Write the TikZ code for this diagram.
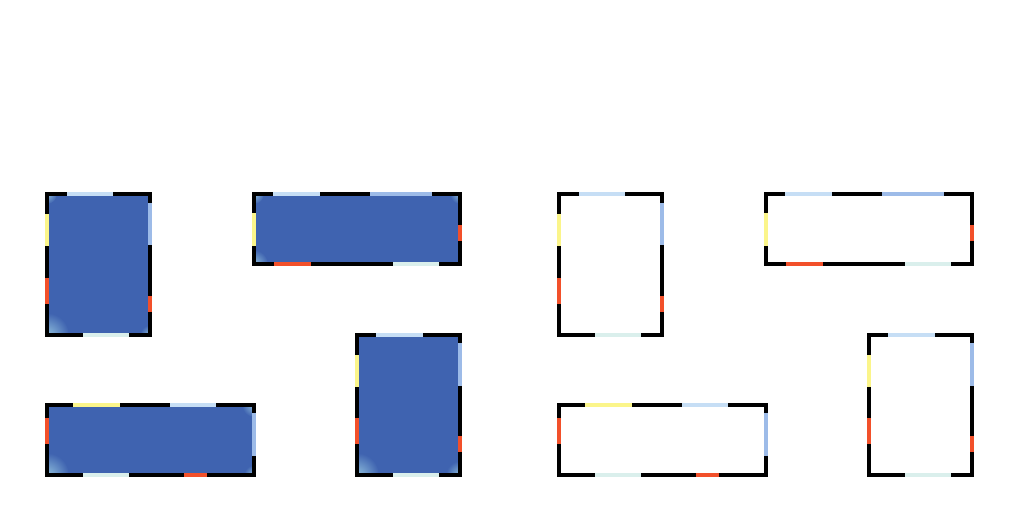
\documentclass[tikz,border=0pt]{standalone}
\definecolor{cyel}{HTML}{FBF58A}
\definecolor{cred}{HTML}{F2502A}
\definecolor{clb}{HTML}{C6DEF5}
\definecolor{cper}{HTML}{9DBBE8}
\definecolor{ccy}{HTML}{DAEFEC}
\definecolor{cfill}{HTML}{3F63B0}
\definecolor{clight}{HTML}{8FBEDC}
\tikzset{
  frame/.style={line width=2pt, line join=miter, draw=black},
  seg/.style={line width=2pt, line cap=butt},
  heat/.style={fill=cfill, draw=none},
  glow/.style={inner color=clight, outer color=cfill}
}
\newcommand\mypanels{%
  % panel 1 (portrait, top)
  \draw[frame] (47,194) rectangle (150,335);
  \draw[seg, clb]  (67,194) -- (113,194);
  \draw[seg, cper] (150,203) -- (150,245);
  \draw[seg, cyel] (47,214) -- (47,246);
  \draw[seg, cred] (47,278) -- (47,304);
  \draw[seg, cred] (150,296) -- (150,312);
  \draw[seg, ccy]  (83,335) -- (129,335);
  % panel 2 (landscape, top)
  \draw[frame] (254,194) rectangle (460,264);
  \draw[seg, clb]  (273,194) -- (320,194);
  \draw[seg, cper] (370,194) -- (432,194);
  \draw[seg, cyel] (254,213) -- (254,246);
  \draw[seg, cred] (460,225) -- (460,241);
  \draw[seg, cred] (274,264) -- (311,264);
  \draw[seg, ccy]  (393,264) -- (439,264);
  % panel 3 (landscape, bottom)
  \draw[frame] (47,405) rectangle (254,475);
  \draw[seg, cyel] (73,405) -- (120,405);
  \draw[seg, clb]  (170,405) -- (216,405);
  \draw[seg, cred] (47,418) -- (47,444);
  \draw[seg, cper] (254,413) -- (254,456);
  \draw[seg, ccy]  (83,475) -- (129,475);
  \draw[seg, cred] (184,475) -- (207,475);
  % panel 4 (portrait, bottom)
  \draw[frame] (357,335) rectangle (460,475);
  \draw[seg, clb]  (376,335) -- (423,335);
  \draw[seg, cper] (460,343) -- (460,386);
  \draw[seg, cyel] (357,355) -- (357,387);
  \draw[seg, cred] (357,418) -- (357,444);
  \draw[seg, cred] (460,436) -- (460,452);
  \draw[seg, ccy]  (393,475) -- (439,475);
}
\begin{document}
\begin{tikzpicture}[x=0.5pt,y=-0.5pt]
\useasboundingbox[fill=white] (0,0) rectangle (1024,512);
% heat-map fills of the left half
\begin{scope}
  \clip (47,194) rectangle (150,335);
  \fill[heat] (47,194) rectangle (150,335);
  \shade[glow] (47,335) circle (22);
  \shade[glow] (150,335) circle (10);
  \shade[glow] (47,194) circle (10);
\end{scope}
\begin{scope}
  \clip (254,194) rectangle (460,264);
  \fill[heat] (254,194) rectangle (460,264);
  \shade[glow] (254,264) circle (14);
  \shade[glow] (460,194) circle (10);
  \shade[glow] (254,194) circle (10);
\end{scope}
\begin{scope}
  \clip (47,405) rectangle (254,475);
  \fill[heat] (47,405) rectangle (254,475);
  \shade[glow] (47,475) circle (22);
  \shade[glow] (254,405) circle (12);
  \shade[glow] (254,475) circle (10);
\end{scope}
\begin{scope}
  \clip (357,335) rectangle (460,475);
  \fill[heat] (357,335) rectangle (460,475);
  \shade[glow] (357,475) circle (22);
  \shade[glow] (460,475) circle (14);
\end{scope}
\mypanels
\begin{scope}[shift={(512,0)}]
  \mypanels
\end{scope}
\end{tikzpicture}
\end{document}
